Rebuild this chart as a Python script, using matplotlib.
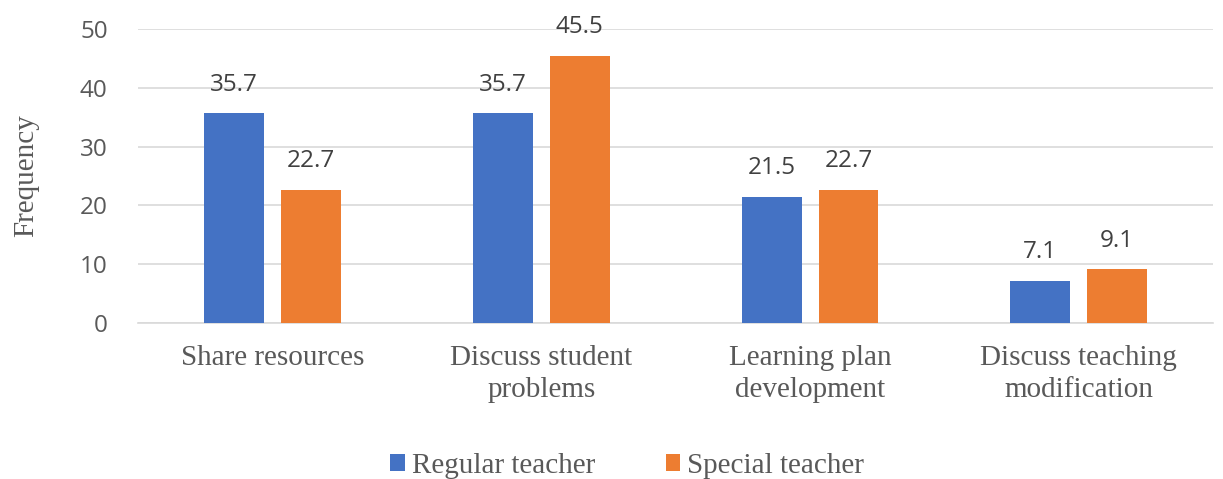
import numpy as np
import matplotlib.pyplot as plt

categories = ["Share resources", "Discuss student\nproblems",
              "Learning plan\ndevelopment", "Discuss teaching\nmodification"]
regular = [35.7, 35.7, 21.5, 7.1]
special = [22.7, 45.5, 22.7, 9.1]
series_names = ["Regular teacher", "Special teacher"]

serif = "Liberation Serif"
sans = "Open Sans"
gray = "#595959"

fig = plt.figure(figsize=(12.23, 4.79), dpi=100)
ax = fig.add_axes([0.113, 0.326, 0.879, 0.613])

x = np.arange(len(categories))
w = 0.223
off = 0.143
b1 = ax.bar(x - off, regular, w, color="#4472C4", label=series_names[0], zorder=3)
b2 = ax.bar(x + off, special, w, color="#ED7D31", label=series_names[1], zorder=3)

# value labels above each bar
for bars, vals in [(b1, regular), (b2, special)]:
    for rect, v in zip(bars, vals):
        ax.annotate(f"{v}", (rect.get_x() + rect.get_width() / 2, rect.get_height()),
                    xytext=(0, 12), textcoords="offset points", ha="center", va="bottom",
                    fontsize=17.5, family=sans, color="#404040")

ax.set_xlim(-0.5, len(categories) - 0.5)
ax.set_ylim(0, 50)
ax.set_yticks(range(0, 51, 10))
ax.yaxis.grid(True, color="#d9d9d9", linewidth=1.2, zorder=0)
for s in ["top", "right", "left"]:
    ax.spines[s].set_visible(False)
ax.spines["bottom"].set_color("#d9d9d9")
ax.spines["bottom"].set_linewidth(1.2)
ax.tick_params(length=0)
ax.tick_params(axis="y", pad=22)
ax.tick_params(axis="x", pad=16)

ax.set_xticks(x)
ax.set_xticklabels(categories, family=serif, fontsize=21, color=gray, linespacing=1.3)
for lbl in ax.get_yticklabels():
    lbl.set_family(sans)
    lbl.set_fontsize(17.5)
    lbl.set_color(gray)

ax.set_ylabel("Frequency", family=serif, fontsize=21, color=gray)
ax.yaxis.set_label_coords(-0.092, 0.5)

fig.legend(handles=[b1, b2], loc="center", bbox_to_anchor=(0.513, 0.027), ncol=2, frameon=False,
           prop={"family": serif, "size": 21}, labelcolor=gray, handlelength=0.5, handleheight=0.5,
           handletextpad=0.25, columnspacing=2.4)

fig.savefig("out.png", dpi=100)
